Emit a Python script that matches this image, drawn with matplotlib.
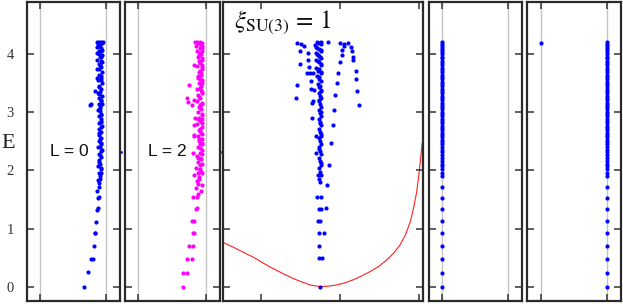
import matplotlib
matplotlib.use("Agg")
import matplotlib.pyplot as plt

# ---------------- data ----------------
E_ticks = [0, 1, 2, 3, 4]
tick_labels = ["0", "1", "2", "3", "4"]

# Panel 1 : L = 0 (blue)
p1_x = [0.67, 0.73, 0.78, 0.80, 0.82, 0.83, 0.84, 0.85, 0.86, 0.88, 0.88, 0.90, 0.87, 0.89,
        0.90, 0.88, 0.91, 0.89, 0.92, 0.88, 0.91, 0.89, 0.93, 0.90, 0.92, 0.88, 0.93, 0.90,
        0.92, 0.89, 0.93, 0.90, 0.94, 0.89, 0.92, 0.90, 0.93, 0.88, 0.91, 0.76, 0.78, 0.89,
        0.93, 0.90, 0.94, 0.88, 0.83, 0.92, 0.90, 0.94, 0.88, 0.86, 0.92, 0.90, 0.94, 0.87,
        0.92, 0.89, 0.94, 0.87, 0.91, 0.94, 0.86, 0.90, 0.93, 0.87, 0.91, 0.94, 0.86, 0.89,
        0.92, 0.95, 0.91, 0.92, 0.91, 0.93, 0.91, 0.90, 0.92, 0.89, 0.92,
        0.93, 0.90, 0.94, 0.91, 0.93, 0.92, 0.94, 0.91, 0.93, 0.90, 0.93, 0.90,
        0.91, 0.92, 0.90, 0.93, 0.91, 0.92, 0.90, 0.93, 0.91, 0.92, 0.94, 0.88]
p1_E = [0.00, 0.25, 0.48, 0.48, 0.70, 0.92, 0.93, 1.12, 1.32, 1.35, 1.53, 1.55, 1.65, 1.72,
        1.78, 1.84, 1.90, 1.96, 2.02, 2.07, 2.12, 2.18, 2.23, 2.29, 2.34, 2.40, 2.45, 2.50,
        2.56, 2.61, 2.66, 2.72, 2.77, 2.82, 2.88, 2.93, 2.98, 3.04, 3.09, 3.13, 3.14, 3.14,
        3.19, 3.24, 3.29, 3.34, 3.36, 3.40, 3.45, 3.50, 3.55, 3.59, 3.60, 3.65, 3.70, 3.74,
        3.78, 3.83, 3.87, 3.91, 3.95, 3.99, 4.03, 4.06, 4.10, 4.13, 4.16, 4.19, 4.21, 4.22,
        4.22, 4.22, 1.86, 2.05, 2.40, 2.83, 3.08, 3.32, 3.88, 4.00, 4.05,
        1.95, 2.15, 2.35, 2.55, 2.75, 2.95, 3.15, 3.35, 3.55, 3.75, 3.95, 4.15,
        2.26, 2.47, 2.64, 2.86, 3.02, 3.22, 3.43, 3.63, 3.81, 3.97, 4.08, 4.18]

# Panel 2 : L = 2 (magenta)
p2_x = [0.67, 0.67, 0.73, 0.73, 0.80, 0.75, 0.81, 0.81, 0.83, 0.80, 0.83, 0.85, 0.87, 0.81,
        0.87, 0.88, 0.86, 0.89, 0.82, 0.87, 0.90, 0.88, 0.91, 0.86, 0.92, 0.89, 0.93, 0.87,
        0.81, 0.91, 0.94, 0.88, 0.92, 0.90, 0.94, 0.82, 0.88, 0.93, 0.90, 0.95, 0.87, 0.92,
        0.84, 0.90, 0.95, 0.88, 0.93, 0.80, 0.90, 0.74, 0.83, 0.95, 0.87, 0.73, 0.92, 0.89,
        0.95, 0.87, 0.75, 0.93, 0.90, 0.95, 0.88, 0.93, 0.82, 0.90, 0.95, 0.87, 0.92, 0.95,
        0.89, 0.93, 0.87, 0.95, 0.91, 0.86, 0.94, 0.89, 0.84, 0.87, 0.92, 0.95, 0.82, 0.82,
        0.93, 0.91, 0.94, 0.92, 0.94, 0.91, 0.93, 0.92, 0.94, 0.90, 0.92,
        0.93, 0.95, 0.90, 0.94, 0.92, 0.95, 0.89, 0.94, 0.91, 0.95, 0.90, 0.94, 0.92, 0.95,
        0.89, 0.94, 0.91, 0.95, 0.90, 0.94, 0.92, 0.95, 0.89, 0.93, 0.91, 0.95, 0.90, 0.94,
        0.92, 0.95]
p2_E = [0.00, 0.24, 0.24, 0.48, 0.48, 0.70, 0.70, 0.92, 0.92, 1.13, 1.13, 1.33, 1.35, 1.55,
        1.55, 1.60, 1.70, 1.76, 1.92, 1.82, 1.88, 1.95, 2.00, 2.05, 2.10, 2.15, 2.20, 2.25,
        2.30, 2.30, 2.35, 2.40, 2.45, 2.50, 2.55, 2.59, 2.60, 2.65, 2.70, 2.75, 2.80, 2.85,
        2.91, 2.90, 2.95, 3.00, 3.05, 3.13, 3.10, 3.18, 3.21, 3.15, 3.20, 3.24, 3.25, 3.30,
        3.35, 3.40, 3.47, 3.45, 3.50, 3.55, 3.60, 3.65, 3.82, 3.70, 3.75, 3.80, 3.85, 3.90,
        3.95, 4.00, 4.05, 4.05, 4.10, 4.15, 4.14, 4.19, 4.21, 4.22, 4.22, 4.20, 2.78, 2.61,
        1.98, 2.22, 2.48, 2.68, 2.88, 3.12, 3.38, 3.58, 3.78, 3.98, 4.18,
        1.65, 1.75, 1.85, 1.95, 2.03, 2.12, 2.21, 2.29, 2.38, 2.46, 2.54, 2.63, 2.72, 2.81,
        2.89, 2.98, 3.07, 3.16, 3.27, 3.33, 3.42, 3.51, 3.63, 3.67, 3.72, 3.82, 3.88, 3.93,
        4.02, 4.11]

# Panel 3 : xi_SU(3) = 1 (blue)
p3_u = [0.75, 0.73, 0.77, 0.73, 0.74, 0.80, 0.72, 0.75, 0.73, 0.76, 0.82, 0.71, 0.76, 0.84,
        0.72, 0.86, 0.70, 0.89, 0.70, 0.91, 0.65, 0.92, 0.64, 0.66, 0.94, 0.63, 0.67, 0.96,
        0.63, 0.98, 0.58, 0.62, 0.66, 1.00, 0.61, 1.02, 0.60, 1.03, 0.59, 1.05, 0.54, 0.51,
        0.44, 0.46, 0.49, 0.49, 0.45, 0.85, 1.00, 1.05, 1.10, 1.14, 1.15, 1.17, 1.17, 1.20,
        1.20, 1.21, 1.24,
        0.75, 0.74, 0.76, 0.75, 0.74, 0.76, 0.75, 0.74, 0.76, 0.75, 0.74, 0.76, 0.75, 0.74,
        0.76, 0.75, 0.74, 0.76, 0.75, 0.74, 0.76, 0.75, 0.74, 0.76, 0.75, 0.74, 0.76, 0.75,
        0.73, 0.76, 0.74, 0.72, 0.76, 0.73, 0.71, 0.76, 0.72, 0.70, 0.76, 0.73, 0.70, 0.75,
        0.72, 0.69, 0.76, 0.71,
        0.76, 0.74, 0.76, 0.75, 0.76, 0.74, 0.76, 0.75, 0.74, 0.76, 0.73, 0.76, 0.72, 0.76,
        0.74, 0.71, 0.76, 0.73, 0.70, 0.68, 0.76, 0.73, 0.71, 0.76]
p3_E = [0.00, 0.49, 0.49, 0.70, 0.93, 0.93, 1.13, 1.13, 1.33, 1.33, 1.35, 1.55, 1.55, 1.75,
        1.92, 2.10, 2.30, 2.47, 2.60, 2.78, 2.91, 3.04, 3.17, 3.20, 3.30, 3.41, 3.38, 3.50,
        3.54, 3.67, 3.67, 3.67, 3.67, 3.86, 3.78, 3.99, 3.90, 4.07, 4.03, 4.15, 4.14, 4.18,
        3.24, 3.47, 3.83, 4.06, 4.19, 4.21, 4.20, 4.18, 4.20, 4.13, 4.05, 3.96, 3.90, 3.72,
        3.57, 3.37, 3.13,
        1.80, 1.86, 1.92, 1.98, 2.04, 2.10, 2.16, 2.22, 2.28, 2.34, 2.40, 2.45, 2.50, 2.56,
        2.62, 2.67, 2.72, 2.78, 2.83, 2.88, 2.94, 2.99, 3.04, 3.09, 3.14, 3.19, 3.24, 3.29,
        3.34, 3.39, 3.44, 3.49, 3.54, 3.58, 3.63, 3.68, 3.72, 3.77, 3.82, 3.86, 3.91, 3.95,
        3.99, 4.03, 4.07, 4.11,
        2.13, 2.37, 2.59, 2.81, 3.01, 3.21, 3.36, 3.46, 3.61, 3.70, 3.75, 3.84, 3.88, 3.93,
        3.97, 4.01, 4.05, 4.09, 4.12, 4.16, 4.17, 4.20, 4.22, 4.22]

# red curve in panel 3
curve_u = [-0.494, -0.35, -0.22, -0.10, 0.00, 0.10, 0.20, 0.30, 0.41, 0.50, 0.62, 0.75,
           0.85, 0.96, 1.07, 1.17, 1.28, 1.38, 1.49, 1.59, 1.68, 1.76, 1.83, 1.89, 1.93,
           1.97, 2.00, 2.04]
curve_E = [0.77, 0.68, 0.59, 0.51, 0.43, 0.35, 0.28, 0.21, 0.14, 0.09, 0.03, 0.00,
           0.01, 0.03, 0.07, 0.12, 0.19, 0.26, 0.35, 0.46, 0.58, 0.72, 0.90, 1.12, 1.35,
           1.63, 1.95, 2.47]

# Panels 4 and 5 : single column of levels
levels = [0.00, 0.24, 0.48, 0.70, 0.92, 1.13, 1.33, 1.53, 1.72, 1.90, 1.96, 2.02, 2.07,
          2.12, 2.17, 2.22, 2.27, 2.32, 2.36, 2.40, 2.45, 2.49, 2.53, 2.57, 2.61, 2.65,
          2.69, 2.73, 2.77, 2.81, 2.85, 2.89, 2.93, 2.97, 3.01, 3.05, 3.09, 3.13, 3.17,
          3.21, 3.25, 3.29, 3.33, 3.37, 3.41, 3.45, 3.49, 3.53, 3.57, 3.61, 3.65, 3.69,
          3.73, 3.77, 3.81, 3.85, 3.89, 3.93, 3.96, 4.00, 4.04, 4.07, 4.11, 4.14, 4.18, 4.21]
p4_x_pos = 0.0
p5_x_pos = 1.0
p5_extra_x = [0.0]
p5_extra_E = [4.20]

key_E = 2.32  # vertical position of the key labels
# ---------------- figure ----------------
W, H = 623, 304
fig = plt.figure(figsize=(W / 100, H / 100), dpi=100)

bottom_px, top_px = 300.5, 2.0
ylo, yhi = -0.2375, 4.90


def make_ax(l, r):
    ax = fig.add_axes([l / W, (H - bottom_px) / H, (r - l) / W, (bottom_px - top_px) / H])
    ax.set_ylim(ylo, yhi)
    ax.set_yticks(E_ticks)
    ax.tick_params(axis="both", which="both", direction="in", left=True, right=True,
                   top=True, bottom=True, length=5, width=1.1, color="#333333",
                   labelleft=False, labelbottom=False)
    for s in ax.spines.values():
        s.set_linewidth(1.6)
        s.set_color("#2a2a2a")
    return ax


grid_color = "#c4c4c4"
ms = 3.0
blue = "#0000ff"
mag = "#ff00ff"

ax1 = make_ax(26.5, 119.5)
ax2 = make_ax(124.5, 219.5)
ax3 = make_ax(223.0, 423.0)
ax4 = make_ax(428.5, 521.5)
ax5 = make_ax(527.0, 621.0)

for ax in (ax1, ax2, ax4, ax5):
    ax.set_xlim(-0.205, 1.205)
    ax.set_xticks([0, 1])
    ax.axvline(0, color=grid_color, lw=1.0, zorder=0)
    ax.axvline(1, color=grid_color, lw=1.0, zorder=0)

ax3.set_xlim(-0.481, 2.05)
ax3.set_xticks([0, 1, 2])

# panel 1
ax1.plot(p1_x, p1_E, "o", color=blue, ms=ms, mew=0)
ax1.plot([1.225], [key_E], "o", color=blue, ms=2.0, mew=0, clip_on=False)
ax1.set_yticklabels(tick_labels)
ax1.tick_params(axis="y", labelleft=True, pad=9, labelsize=10.5)
for lab in ax1.get_yticklabels():
    lab.set_family("Liberation Serif")
    lab.set_color("#333333")

# panel 2
ax2.plot(p2_x, p2_E, "o", color=mag, ms=ms, mew=0)
ax2.plot([1.225], [key_E], "o", color=mag, ms=2.0, mew=0, clip_on=False)

# panel 3
ax3.plot(curve_u, curve_E, "-", color="#ff2020", lw=0.8, zorder=1)
ax3.plot(p3_u, p3_E, "o", color=blue, ms=ms, mew=0, zorder=3)

# panel 4
ax4.plot([p4_x_pos] * len(levels), levels, "o", color=blue, ms=ms, mew=0)

# panel 5
ax5.plot([p5_x_pos] * len(levels), levels, "o", color=blue, ms=ms, mew=0)
ax5.plot(p5_extra_x, p5_extra_E, "o", color=blue, ms=ms, mew=0)

# texts
fig.text(8.5 / W, 1 - 143 / H, "E", family="Liberation Serif", fontsize=16,
         ha="center", va="center", color="#222222")
fig.text(50 / W, 1 - 152 / H, "L = 0", family="Liberation Sans", fontsize=12.5,
         ha="left", va="center", color="#111111")
fig.text(148 / W, 1 - 152 / H, "L = 2", family="Liberation Sans", fontsize=12.5,
         ha="left", va="center", color="#111111")

plt.rcParams["mathtext.fontset"] = "stix"
fig.text(234 / W, 1 - 28 / H, r"$\xi_{\mathrm{SU(3)}}\,=\,1$", fontsize=18,
         ha="left", va="baseline", color="#111111")

fig.savefig("out.png", dpi=100)
